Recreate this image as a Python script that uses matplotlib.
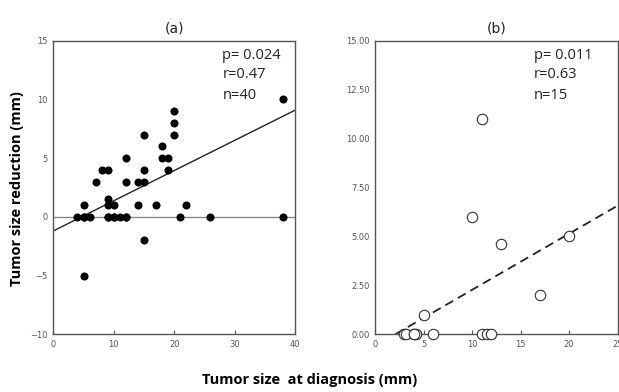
import matplotlib
matplotlib.use("Agg")
import matplotlib.pyplot as plt
import numpy as np

# Panel (a) data
a_x = [4, 5, 6, 5, 5, 7, 8, 9, 9, 9, 10, 9, 10, 11, 12, 12, 12, 14, 14, 15, 15, 15, 15,
       17, 18, 18, 19, 19, 20, 20, 20, 21, 22, 26, 38, 38, 9, 10, 12, 5]
a_y = [0, 0, 0, 1, -5, 3, 4, 4, 1.5, 1, 1, 0, 0, 0, 0, 3, 5, 1, 3, 3, 4, 7, -2,
       1, 6, 5, 5, 4, 7, 8, 9, 0, 1, 0, 10, 0, 0, 0, 0, 0]
a_fit = (-1.2, 0.257)  # intercept, slope
a_stats = ["p= 0.024", "r=0.47", "n=40"]

# Panel (b) data
b_x = [3, 3.2, 4, 4.2, 6, 5, 10, 11, 13, 17, 20, 11, 11.5, 12, 4]
b_y = [0, 0, 0, 0, 0, 1, 6, 11, 4.6, 2, 5, 0, 0, 0, 0]
b_fit = (-0.6, 0.287)
b_stats = ["p= 0.011", "r=0.63", "n=15"]

fig = plt.figure(figsize=(6.19, 3.92), dpi=100)
ax1 = fig.add_axes([0.0861, 0.1472, 0.3905, 0.749])
ax2 = fig.add_axes([0.6058, 0.1472, 0.392, 0.749])

spine_c = "#555555"
tick_c = "#555555"

for ax in (ax1, ax2):
    for s in ax.spines.values():
        s.set_color(spine_c)
        s.set_linewidth(1.0)
    ax.tick_params(direction="in", length=3, width=0.8, colors=tick_c,
                   labelsize=6, pad=4)
    ax.tick_params(axis="y", length=0)

stat_y = [0.949, 0.884, 0.815]

# Panel (a)
ax1.set_xlim(0, 40)
ax1.set_ylim(-10, 15)
ax1.set_xticks([0, 10, 20, 30, 40])
ax1.set_yticks([-10, -5, 0, 5, 10, 15])
ax1.axhline(0, color="#888888", lw=1.0, zorder=1)
xs = np.array([0, 40])
ax1.plot(xs, a_fit[0] + a_fit[1] * xs, color="#222222", lw=1.0, zorder=2)
ax1.plot(a_x, a_y, "o", color="black", ms=4.8, zorder=3)
ax1.set_title("(a)", fontsize=10, pad=6, color="#222222")
for yy, t in zip(stat_y, a_stats):
    ax1.text(0.70, yy, t, transform=ax1.transAxes,
             fontsize=10.5, family="Open Sans", va="center", ha="left", color="#222222")

# Panel (b)
ax2.set_xlim(0, 25)
ax2.set_ylim(0, 15)
ax2.set_xticks([0, 5, 10, 15, 20, 25])
ax2.set_yticks([0, 2.5, 5, 7.5, 10, 12.5, 15])
ax2.set_yticklabels([f"{v:.2f}" for v in [0, 2.5, 5, 7.5, 10, 12.5, 15]])
xs2 = np.array([2.1, 25])
ax2.plot(xs2, b_fit[0] + b_fit[1] * xs2, color="#222222", lw=1.3,
         dashes=(5, 3), zorder=2)
ax2.plot(b_x, b_y, "o", mfc="white", mec="#333333", mew=0.8, ms=7.5,
         zorder=3, clip_on=False)
ax2.set_title("(b)", fontsize=10, pad=6, color="#222222")
for yy, t in zip(stat_y, b_stats):
    ax2.text(0.655, yy, t, transform=ax2.transAxes,
             fontsize=10.5, family="Open Sans", va="center", ha="left", color="#222222")

fig.text(0.028, 0.52, "Tumor size reduction (mm)", rotation=90, ha="center",
         va="center", fontsize=10.5, fontweight="bold", family="Open Sans")
fig.text(0.50, 0.03, "Tumor size  at diagnosis (mm)", ha="center",
         va="center", fontsize=10.5, fontweight="bold", family="Open Sans")

fig.savefig("out.png", dpi=100)
